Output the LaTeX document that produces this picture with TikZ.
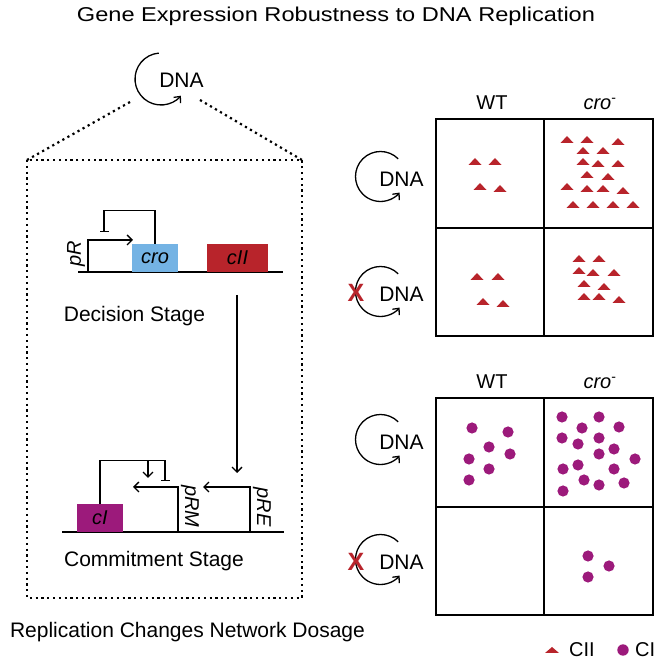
\documentclass[tikz,border=0pt]{standalone}
\usepackage{fontspec}
\setmainfont{Liberation Sans}
\newfontfamily\titlefont[FakeStretch=1.18]{Liberation Sans}
\usetikzlibrary{arrows.meta}

\definecolor{ciired}{HTML}{B8242B}
\definecolor{croblue}{HTML}{74B3E4}
\definecolor{cipurple}{HTML}{9C1A7B}

\tikzset{
  lbl/.style={font=\fontsize{21}{21}\selectfont, inner sep=0pt},
  dnatext/.style={font=\fontsize{21}{21}\selectfont, inner sep=0pt, text height=15pt, text depth=0pt},
  dnaarc/.style={line width=1.3pt, -{Straight Barb[length=5pt,width=9pt]}},
  xmark/.style={font=\fontsize{25}{25}\selectfont\bfseries, text=ciired, inner sep=0pt, text height=18pt, text depth=0pt},
  genebox/.style={minimum height=28pt, inner sep=0pt, font=\fontsize{20}{20}\selectfont\itshape},
  promlabel/.style={font=\fontsize{20}{20}\selectfont\itshape, inner sep=0pt},
  wire/.style={line width=1.4pt},
  prom/.style={wire, -{Straight Barb[length=5pt,width=10pt]}},
  repress/.style={wire, -{Bar[width=9pt]}},
  dots/.style={line width=2.2pt, dash pattern=on 2.2pt off 3.6pt},
  grid/.style={line width=1.8pt},
}

\begin{document}
\begin{tikzpicture}[x=1pt,y=1pt]
  \useasboundingbox (0,0) rectangle (664,664);

  % title
  \node[anchor=base, inner sep=0pt, font=\titlefont\fontsize{20}{20}\selectfont] (title) at (336,642)
    {Gene Expression Robustness to DNA Replication};

  % ---- left: network on the DNA ----
  \node[dnatext] (dnaTop) at (181.5,584) {DNA};
  \draw[dnaarc] ([shift={(-20.5,1)}]dnaTop.center) ++(95:26) arc[start angle=95, end angle=320, radius=26];

  \coordinate (boxTL) at (27,504);
  \coordinate (boxTR) at (302,504);
  \coordinate (boxBR) at (302,66);
  \coordinate (zoomL) at (130,562);
  \coordinate (zoomR) at (200,564);
  \draw[dots] (boxTL) rectangle (boxBR);
  \draw[dots] (zoomL) -- (boxTL);
  \draw[dots] (zoomR) -- (boxTR);

  % decision stage
  \coordinate (dL) at (78,392);
  \coordinate (dR) at (283,392);
  \draw[wire] (dL) -- (dR);
  \node[genebox, fill=croblue, minimum width=46pt] (cro) at (155,406) {cro};
  \node[genebox, fill=ciired, minimum width=61pt] (cII) at (237.5,406) {cII};
  \coordinate (pRbase) at (88,392);
  \coordinate (pRtip) at (133,424);
  \draw[prom] (pRbase) |- (pRtip);
  \node[promlabel, rotate=90] (pRlab) at (76,410) {pR};
  \coordinate (crobar) at (104,432);
  \draw[repress] (cro.north) -- ++(0,33) -| (crobar);
  \node[lbl, anchor=base] (decision) at (134.5,342) {Decision Stage};

  \coordinate (stepTop) at (237,369);
  \coordinate (stepBot) at (237,191);
  \draw[prom] (stepTop) -- (stepBot);

  % commitment stage
  \coordinate (cL) at (62,132);
  \coordinate (cR) at (284,132);
  \draw[wire] (cL) -- (cR);
  \node[genebox, fill=cipurple, minimum width=46pt] (cI) at (100,146) {cI};
  \coordinate (pRMbase) at (178,132);
  \coordinate (pRMtip) at (133,177);
  \draw[prom] (pRMbase) |- (pRMtip);
  \node[promlabel, rotate=-90] (pRMlab) at (190,157.5) {pRM};
  \coordinate (pREbase) at (250,132);
  \coordinate (pREtip) at (203,177);
  \draw[prom] (pREbase) |- (pREtip);
  \node[promlabel, rotate=-90] (pRElab) at (262,157) {pRE};
  \coordinate (cIbar) at (165,183);
  \draw[repress] (cI.north) -- ++(0,43) -| (cIbar);
  \coordinate (cIfork) at (148,203);
  \coordinate (cItip) at (148,186);
  \draw[prom] (cIfork) -- (cItip);
  \node[lbl, anchor=base] (commit) at (154,97) {Commitment Stage};

  \node[lbl, anchor=base] (caption) at (187.5,26) {Replication Changes Network Dosage};

  % ---- right: CII panel ----
  \draw[grid] (436,545) rectangle (653,328);
  \draw[grid] (544,545) -- (544,328);
  \draw[grid] (436,436) -- (653,436);
  \node[lbl, anchor=base, font=\fontsize{20}{20}\selectfont] (wtA) at (492,554) {WT};
  \node[lbl, anchor=base, font=\fontsize{20}{20}\selectfont] (croA) at (600,554) {\textit{cro}\textsuperscript{-}};

  \node[dnatext] (dnaA) at (401.5,484.5) {DNA};
  \draw[dnaarc] ([shift={(-21,3)}]dnaA.center) ++(45:25) arc[start angle=45, end angle=320, radius=25];
  \node[dnatext] (dnaB) at (401.5,369.5) {DNA};
  \draw[dnaarc] ([shift={(-21,3)}]dnaB.center) ++(45:25) arc[start angle=45, end angle=320, radius=25];
  \node[xmark] (noRepB) at (356,371.5) {X};

  \foreach \x/\y in {475/502,495/502,480/477,500/475,
      567/524,587/524,618/522,583/513,603/513,583/502,598/500,618/500,587/489,
      608/487,567/477,587/475,603/475,623/473,573/459,593/459,613/459,633/459,
      477/387,498/387,483/362,503/360,
      579/405,599/405,579/393,593/391,614/391,584/380,604/377,584/367,599/367,619/364}
    \fill[ciired] (\x-6.5,\y-3) -- (\x+6.5,\y-3) -- (\x,\y+4) -- cycle;

  % ---- right: CI panel ----
  \draw[grid] (436,266) rectangle (653,49);
  \draw[grid] (544,266) -- (544,49);
  \draw[grid] (436,157) -- (653,157);
  \node[lbl, anchor=base, font=\fontsize{20}{20}\selectfont] (wtB) at (492,275) {WT};
  \node[lbl, anchor=base, font=\fontsize{20}{20}\selectfont] (croB) at (600,275) {\textit{cro}\textsuperscript{-}};

  \node[dnatext] (dnaC) at (401.5,221.5) {DNA};
  \draw[dnaarc] ([shift={(-21,3)}]dnaC.center) ++(45:25) arc[start angle=45, end angle=320, radius=25];
  \node[dnatext] (dnaD) at (401.5,101.5) {DNA};
  \draw[dnaarc] ([shift={(-21,3)}]dnaD.center) ++(45:25) arc[start angle=45, end angle=320, radius=25];
  \node[xmark] (noRepD) at (356,102) {X};

  \foreach \x/\y in {472/236,508/232,489/217,510/210,469/205,489/195,469/184,
      562/247,599/247,582/236,619/237,562/226,599/226,578/220,614/215,599/210,
      635/205,578/199,563/195,614/195,584/184,624/181,599/179,563/173,
      588/108,609/98,588/87}
    \fill[cipurple] (\x,\y) circle[radius=5.6];

  % legend
  \fill[ciired] (545,11) -- (559,11) -- (552,17) -- cycle;
  \node[lbl, anchor=base west, font=\fontsize{20}{20}\selectfont] (legCII) at (569,8) {CII};
  \fill[cipurple] (623,14) circle[radius=5.7];
  \node[lbl, anchor=base west, font=\fontsize{20}{20}\selectfont] (legCI) at (635,8) {CI};
\end{tikzpicture}
\end{document}
